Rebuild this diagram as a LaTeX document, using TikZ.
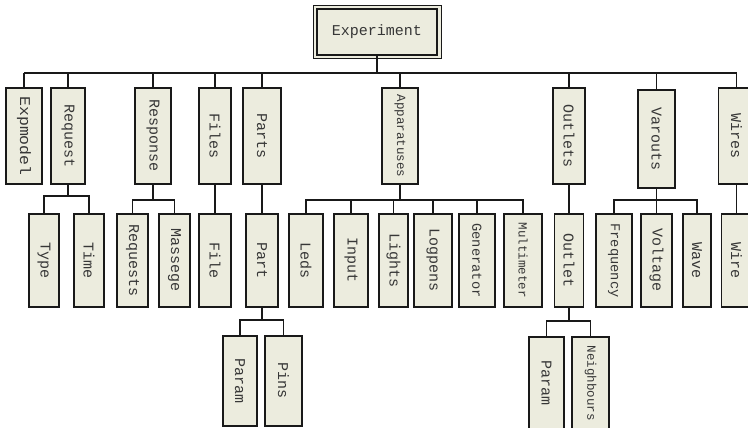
\documentclass[tikz,border=0pt]{standalone}
\usepackage{fontspec}
\setmonofont{Liberation Mono}

\definecolor{blockColor}{RGB}{236,236,222}
\definecolor{lineColor}{RGB}{25,25,25}
\definecolor{textColor}{RGB}{55,55,55}

\newcommand{\vtext}[1]{\rotatebox{-90}{#1}}

\tikzset{
  block/.style={draw=lineColor, line width=1.6pt, fill=blockColor, text=textColor,
    inner sep=0pt, font=\ttfamily\fontsize{15}{15}\selectfont},
  levelOne/.style={block, minimum height=96pt},
  levelTwo/.style={block, minimum height=93pt},
  levelThree/.style={block, minimum height=90pt},
  smallText/.style={font=\ttfamily\fontsize{12.5}{12.5}\selectfont},
  midText/.style={font=\ttfamily\fontsize{13.7}{13.7}\selectfont},
  wire/.style={draw=lineColor, line width=1.5pt},
  rootWire/.style={draw=lineColor, line width=2.4pt}
}

\begin{document}
\begin{tikzpicture}[x=1pt,y=-1pt]
  \useasboundingbox (0,0) rectangle (748,428);
  \clip (0,0) rectangle (748,428);
  % Root
  \node[draw=lineColor, line width=0.8pt, fill=blockColor, minimum width=128pt, minimum height=53pt] (experimentFrame) at (377,31.5) {};
  \node[block, line width=2.4pt, minimum width=120pt, minimum height=46pt] (experiment) at (377,32) {Experiment};
  % Level one
  \node[levelOne, minimum width=36pt] (expmodel) at (24,136) {\vtext{\scalebox{1.1}[1]{Expmodel}}};
  \node[levelOne, minimum width=34pt] (request) at (68,136) {\vtext{Request}};
  \node[levelOne, minimum width=36pt] (response) at (153,136) {\vtext{Response}};
  \node[levelOne, minimum width=32pt] (files) at (215,136) {\vtext{Files}};
  \node[levelOne, minimum width=38pt] (parts) at (262,136) {\vtext{Parts}};
  \node[levelOne, smallText, minimum width=36pt] (apparatuses) at (400,136) {\vtext{Apparatuses}};
  \node[levelOne, minimum width=32pt] (outlets) at (569,136) {\vtext{Outlets}};
  \node[levelOne, minimum width=37pt, minimum height=98pt] (varouts) at (656.5,139) {\vtext{Varouts}};
  \node[levelOne, minimum width=36pt] (wires) at (736.5,136) {\vtext{Wires}};
  % Level two
  \node[levelTwo, minimum width=30pt] (type) at (44,260.5) {\vtext{Type}};
  \node[levelTwo, minimum width=30pt] (time) at (89,260.5) {\vtext{Time}};
  \node[levelTwo, minimum width=31pt] (requests) at (132.5,260.5) {\vtext{Requests}};
  \node[levelTwo, minimum width=31pt] (massege) at (174.5,260.5) {\vtext{Massege}};
  \node[levelTwo, minimum width=32pt] (file) at (215,260.5) {\vtext{File}};
  \node[levelTwo, minimum width=32pt] (part) at (262,260.5) {\vtext{Part}};
  \node[levelTwo, minimum width=34pt] (leds) at (306,260.5) {\vtext{Leds}};
  \node[levelTwo, minimum width=34pt] (input) at (351,260.5) {\vtext{Input}};
  \node[levelTwo, minimum width=29pt] (lights) at (393.5,260.5) {\vtext{Lights}};
  \node[levelTwo, minimum width=38pt] (logpens) at (433,260.5) {\vtext{Logpens}};
  \node[levelTwo, midText, minimum width=36pt] (generator) at (477,260.5) {\vtext{Generator}};
  \node[levelTwo, smallText, minimum width=38pt] (multimeter) at (523,260.5) {\vtext{Multimeter}};
  \node[levelTwo, minimum width=29pt] (outlet) at (569,260.5) {\vtext{Outlet}};
  \node[levelTwo, midText, minimum width=36pt] (frequency) at (614,260.5) {\vtext{Frequency}};
  \node[levelTwo, minimum width=31pt] (voltage) at (656.5,260.5) {\vtext{Voltage}};
  \node[levelTwo, minimum width=28pt] (wave) at (697,260.5) {\vtext{Wave}};
  \node[levelTwo, minimum width=30pt] (wire) at (736.5,260.5) {\vtext{Wire}};
  % Level three
  \node[levelThree, minimum width=34pt] (partParam) at (240,381) {\vtext{Param}};
  \node[levelThree, minimum width=37pt] (pins) at (283.5,381) {\vtext{Pins}};
  \node[levelThree, minimum width=35pt, minimum height=93pt] (outletParam) at (546.5,383.5) {\vtext{Param}};
  \node[levelThree, smallText, minimum width=37pt, minimum height=93pt] (neighbours) at (590.5,383.5) {\vtext{Neighbours}};
  % Connectors from the root
  \draw[rootWire] (experiment.south) -- ++(0,17) coordinate (rootBus);
  \draw[rootWire] (expmodel.north |- rootBus) -- (wires.north |- rootBus);
  \foreach \child in {expmodel,request,response,files,parts,apparatuses,outlets,varouts,wires}
    \draw[wire] (\child.north) -- (\child.north |- rootBus);
  % Connectors below level one
  \foreach \child in {type,time}
    \draw[wire] (\child.north) -- ++(0,-17) -| (request.south);
  \foreach \child in {requests,massege}
    \draw[wire] (\child.north) -- ++(0,-13) -| (response.south);
  \draw[wire] (files.south) -- (file.north);
  \draw[wire] (parts.south) -- (part.north);
  \foreach \child in {leds,input,lights,logpens,generator,multimeter}
    \draw[wire] (\child.north) -- ++(0,-13) -| (apparatuses.south);
  \draw[wire] (outlets.south) -- (outlet.north);
  \foreach \child in {frequency,voltage,wave}
    \draw[wire] (\child.north) -- ++(0,-13) -| (varouts.south);
  \draw[wire] (wires.south) -- (wire.north);
  % Connectors below level two
  \foreach \child in {partParam,pins}
    \draw[wire] (\child.north) -- ++(0,-15) -| (part.south);
  \foreach \child in {outletParam,neighbours}
    \draw[wire] (\child.north) -- ++(0,-15) -| (outlet.south);
\end{tikzpicture}
\end{document}
